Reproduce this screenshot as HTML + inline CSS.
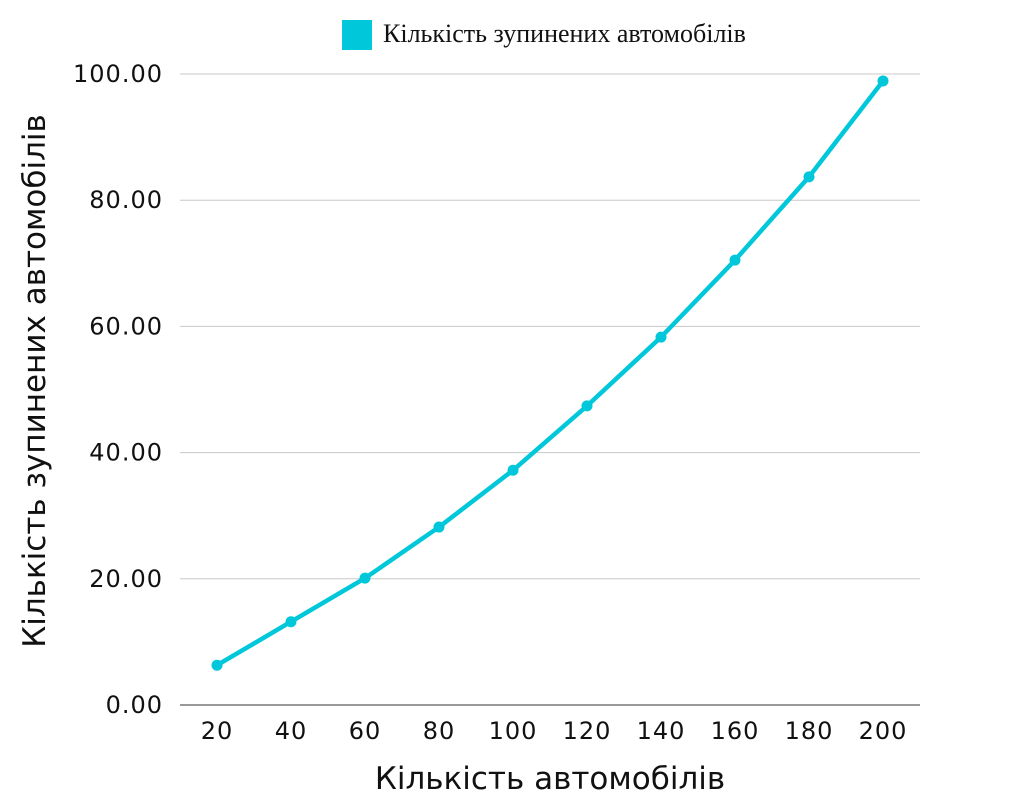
<!DOCTYPE html>
<html><head><meta charset="utf-8">
<style>
html,body{margin:0;padding:0;background:#fff;}
svg{display:block;}
.tick{font-family:"DejaVu Sans","Liberation Sans",sans-serif;font-size:24px;letter-spacing:1px;fill:#111;}
.title{font-family:"DejaVu Sans","Liberation Sans",sans-serif;font-size:31px;fill:#111;}
</style></head>
<body>
<svg id="chart" width="1036" height="799" viewBox="0 0 1036 799">
  <g id="legend">
    <rect x="342" y="20" width="30" height="30" fill="#00c8da"/>
    <text x="383" y="42" font-family="'Liberation Serif',serif" font-size="26" fill="#111">Кількість зупинених автомобілів</text>
  </g>
  <g id="grid"></g>
  <g id="xticks"></g>
  <g id="yticks"></g>
  <text class="title" x="550" y="789" text-anchor="middle">Кількість автомобілів</text>
  <text class="title" transform="translate(45,381) rotate(-90)" text-anchor="middle">Кількість зупинених автомобілів</text>
  <g id="series"></g>
</svg>
<script>
const categories = [20,40,60,80,100,120,140,160,180,200];
const values = [6.3,13.2,20.1,28.2,37.2,47.4,58.3,70.5,83.7,98.9];
const yTicks = [0,20,40,60,80,100];

const NS = "http://www.w3.org/2000/svg";
const plotLeft = 180, plotRight = 920, plotTop = 74, plotBottom = 705, yMax = 100;
const band = (plotRight - plotLeft) / categories.length;
function xPos(i){ return plotLeft + band * (i + 0.5); }
function yPos(v){ return plotBottom - (v / yMax) * (plotBottom - plotTop); }
function mk(tag, attrs, parent){
  const e = document.createElementNS(NS, tag);
  for (const k in attrs) e.setAttribute(k, attrs[k]);
  parent.appendChild(e);
  return e;
}
const grid = document.getElementById('grid');
const yt = document.getElementById('yticks');
yTicks.forEach(t => {
  const y = yPos(t);
  const l = mk('line', {x1:plotLeft, x2:plotRight, y1:y, y2:y, stroke: t===0 ? '#333' : '#c8c8c8', 'stroke-width':1}, grid);
  
  
  const tx = mk('text', {x:163, y:y+8, 'text-anchor':'end', class:'tick'}, yt);
  tx.textContent = t.toFixed(2);
  
  
});
const xt = document.getElementById('xticks');
categories.forEach((c, i) => {
  const tx = mk('text', {x:xPos(i), y:739, 'text-anchor':'middle', class:'tick'}, xt);
  tx.textContent = c;
  
  
});
const s = document.getElementById('series');
const pts = values.map((v, i) => xPos(i) + ',' + yPos(v)).join(' ');
const pl = mk('polyline', {points:pts, fill:'none', stroke:'#00c8da', 'stroke-width':4.5, 'stroke-linejoin':'round'}, s);


values.forEach((v, i) => {
  const c = mk('circle', {cx:xPos(i), cy:yPos(v), r:5.5, fill:'#00c8da'}, s);
  
  
});
</script>
</body></html>
